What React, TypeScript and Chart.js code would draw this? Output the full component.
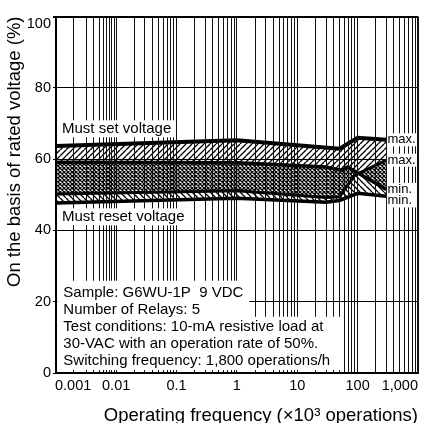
import React, { useEffect, useRef } from 'react';
import { Chart, registerables } from 'chart.js';

Chart.register(...registerables);

// ---- data (frequency in x10^3 operations/h, voltage in % of rated) ----
const SET_MAX_FREQ = [0.0004, 1, 50, 100, 300];
const SET_MAX = [63.7, 65.3, 62.9, 66.0, 65.4];
const SET_MIN_FREQ = [0.0004, 1, 30, 55, 68, 300];
const SET_MIN = [59.1, 59.0, 57.8, 56.9, 57.8, 51.5];
const RESET_MAX_FREQ = [0.0004, 1, 30, 50, 90, 300];
const RESET_MAX = [50.2, 51.1, 49.2, 49.4, 55.5, 59.7];
const RESET_MIN_FREQ = [0.0004, 1, 30, 50, 100, 300];
const RESET_MIN = [47.7, 49.0, 47.9, 48.4, 50.4, 49.6];

const X_MIN = 0.0004;
const X_MAX = 1000;
const X_DECADES = [0.001, 0.01, 0.1, 1, 10, 100];
const X_DECADE_LABELS = ['0.001', '0.01', '0.1', '1', '10', '100'];
const X_MAX_LABEL = '1,000';
const Y_TICKS = [0, 20, 40, 60, 80, 100];

const X_TITLE = 'Operating frequency (×10³ operations)';
const Y_TITLE = 'On the basis of rated voltage (%)';
const SET_LABEL = 'Must set voltage';
const RESET_LABEL = 'Must reset voltage';
const NOTE_LINES_TOP = ['Sample: G6WU-1P  9 VDC', 'Number of Relays: 5'];
const NOTE_LINES_BOTTOM = [
  'Test conditions: 10-mA resistive load at',
  '30-VAC with an operation rate of 50%.',
  'Switching frequency: 1,800 operations/h',
];
const END_LABELS = ['max.', 'max.', 'min.', 'min.'];

const FONT = "'Liberation Sans', Arial, Helvetica, sans-serif";

// The printed axis is logarithmic, with its first decade drawn narrower.
const FIRST_DECADE_SCALE = 0.713;
function axisPos(f: number): number {
  const d = Math.log10(f) + 2;
  return d >= 0 ? d : d * FIRST_DECADE_SCALE;
}

const X_TICK_FREQS: number[] = [];
const X_TICK_LABELS: string[] = [];
X_TICK_FREQS.push(X_MIN);
X_TICK_LABELS.push('');
X_DECADES.forEach((d, i) => {
  for (let m = 1; m <= 9; m++) {
    X_TICK_FREQS.push(d * m);
    X_TICK_LABELS.push(m === 1 ? X_DECADE_LABELS[i] : '');
  }
});
X_TICK_FREQS.push(X_MAX);
X_TICK_LABELS.push(X_MAX_LABEL);

function pts(freqs: number[], vals: number[]) {
  return freqs.map((f, i) => ({ x: axisPos(f), y: vals[i] }));
}

function makePattern(ctx: CanvasRenderingContext2D, kind: 'slash' | 'back' | 'cross') {
  const s = kind === 'cross' ? 4 : 6;
  const c = document.createElement('canvas');
  c.width = s;
  c.height = s;
  const g = c.getContext('2d')!;
  g.fillStyle = '#fff';
  g.fillRect(0, 0, s, s);
  g.strokeStyle = '#000';
  g.lineWidth = kind === 'cross' ? 1.3 : 1.3;
  g.beginPath();
  for (const k of [-1, 0, 1]) {
    if (kind === 'slash' || kind === 'cross') {
      g.moveTo(k * s, s);
      g.lineTo(k * s + s, 0);
    }
    if (kind === 'back' || kind === 'cross') {
      g.moveTo(k * s, 0);
      g.lineTo(k * s + s, s);
    }
  }
  g.stroke();
  return ctx.createPattern(c, 'repeat')!;
}

const SET_LABEL_AT = 68.5;
const RESET_LABEL_AT = 43.8;
const NOTE_FIRST_AT = 22.6;
const NOTE_STEP = 17.2;

const notesPlugin = {
  id: 'notes',
  afterDraw(chart: any) {
    const { ctx, chartArea: ca, scales } = chart;
    const xs = scales.x;
    const ys = scales.y;
    ctx.save();
    const boxLeft = ca.left + 1.5;
    const white = (x1: number, y1: number, x2: number, y2: number) => {
      ctx.fillStyle = '#fff';
      ctx.fillRect(x1, y1, x2 - x1, y2 - y1);
    };
    ctx.textBaseline = 'middle';
    ctx.textAlign = 'left';
    ctx.font = `15px ${FONT}`;

    // Must set / reset labels
    const labelX = ca.left + 6;
    [[SET_LABEL, SET_LABEL_AT], [RESET_LABEL, RESET_LABEL_AT]].forEach(([t, v]) => {
      const y = ys.getPixelForValue(v as number);
      const w = ctx.measureText(t as string).width;
      white(boxLeft, y - 8.5, labelX + w + 3, y + 8.5);
      ctx.fillStyle = '#000';
      ctx.fillText(t as string, labelX, y);
    });

    // Test notes
    const noteX = ca.left + 7.3;
    const y0 = ys.getPixelForValue(NOTE_FIRST_AT);
    const wTop = Math.max(...NOTE_LINES_TOP.map((t) => ctx.measureText(t).width));
    const wBot = Math.max(...NOTE_LINES_BOTTOM.map((t) => ctx.measureText(t).width));
    const splitY = y0 + NOTE_STEP * 1.5 - 1.5;
    white(boxLeft, y0 - 11.7, noteX + wTop + 6, splitY + 1);
    white(boxLeft, splitY, noteX + wBot + 11, ca.bottom - 3);
    ctx.fillStyle = '#000';
    [...NOTE_LINES_TOP, ...NOTE_LINES_BOTTOM].forEach((t, i) => {
      ctx.fillText(t, noteX, y0 + i * NOTE_STEP);
    });

    // End labels (max./min.) at the right-hand end of each curve
    ctx.font = `13px ${FONT}`;
    const ends = [
      SET_MAX[SET_MAX.length - 1],
      RESET_MAX[RESET_MAX.length - 1],
      SET_MIN[SET_MIN.length - 1],
      RESET_MIN[RESET_MIN.length - 1],
    ];
    const endX = xs.getPixelForValue(axisPos(SET_MAX_FREQ[SET_MAX_FREQ.length - 1])) + 1;
    let prev = -Infinity;
    ends.forEach((v, i) => {
      let y = ys.getPixelForValue(v);
      if (y < prev + 11.5) y = prev + 11.5;
      prev = y;
      white(endX - 0.5, y - 6.5, ca.right - 1, y + 6.5);
      ctx.fillStyle = '#000';
      ctx.fillText(END_LABELS[i], endX, y);
    });
    ctx.restore();
  },
};

export default function App() {
  const ref = useRef<HTMLCanvasElement>(null);

  useEffect(() => {
    document.body.style.margin = '0';
    const canvas = ref.current!;
    const ctx = canvas.getContext('2d')!;
    const cross = makePattern(ctx, 'cross');
    const slash = makePattern(ctx, 'slash');
    const back = makePattern(ctx, 'back');
    const lastX = X_TICK_FREQS.length - 1;

    const chart = new Chart(canvas, {
      type: 'line',
      data: {
        datasets: [
          {
            label: 'Must set voltage min.',
            data: pts(SET_MIN_FREQ, SET_MIN),
            borderColor: '#000',
            borderWidth: 3.5,
            backgroundColor: cross,
            fill: { target: 2 },
          },
          {
            label: 'Must set voltage max.',
            data: pts(SET_MAX_FREQ, SET_MAX),
            borderColor: '#000',
            borderWidth: 4,
            backgroundColor: slash,
            fill: { target: 0 },
          },
          {
            label: 'Must reset voltage max.',
            data: pts(RESET_MAX_FREQ, RESET_MAX),
            borderColor: '#000',
            borderWidth: 3,
            backgroundColor: back,
            fill: { target: 3 },
          },
          {
            label: 'Must reset voltage min.',
            data: pts(RESET_MIN_FREQ, RESET_MIN),
            borderColor: '#000',
            borderWidth: 3.5,
            fill: false,
          },
        ] as any,
      },
      options: {
        responsive: false,
        animation: false,
        layout: { padding: { top: 13, right: 8, left: 0, bottom: 0 } },
        elements: { point: { radius: 0 }, line: { tension: 0 } },
        plugins: {
          legend: { display: false },
          tooltip: { enabled: false },
          filler: { drawTime: 'beforeDatasetsDraw' },
        } as any,
        scales: {
          x: {
            type: 'linear',
            min: axisPos(X_MIN),
            max: axisPos(X_MAX),
            afterBuildTicks: (s: any) => {
              s.ticks = X_TICK_FREQS.map((f) => ({ value: axisPos(f) }));
            },
            afterFit: (s: any) => {
              s.height = 50;
              s.paddingLeft = 0;
              s.paddingRight = 0;
            },
            grid: {
              z: 1,
              drawTicks: false,
              color: (c: any) => (c.index === 0 ? 'rgba(0,0,0,0)' : '#111'),
              lineWidth: (c: any) => (c.index === lastX ? 2 : 1),
            },
            border: { z: 1, width: 2, color: '#000' },
            ticks: {
              autoSkip: false,
              maxRotation: 0,
              minRotation: 0,
              align: 'inner',
              padding: 4,
              color: '#000',
              font: { family: FONT, size: 14.5 },
              callback: (_v: any, i: number) => X_TICK_LABELS[i],
            },
            title: {
              display: true,
              text: X_TITLE,
              align: 'end',
              color: '#000',
              font: { family: FONT, size: 18.5, lineHeight: 0.8 },
              padding: { top: 0, bottom: 0 },
            },
          },
          y: {
            min: 0,
            max: 100,
            afterBuildTicks: (s: any) => {
              s.ticks = Y_TICKS.map((v) => ({ value: v }));
            },
            afterFit: (s: any) => {
              s.width = 56;
            },
            grid: {
              z: 1,
              tickLength: 3,
              color: '#000',
              lineWidth: (c: any) => (c.tick && c.tick.value === 100 ? 2 : 1),
            },
            border: { z: 1, width: 2, color: '#000' },
            ticks: {
              padding: 2,
              color: '#000',
              font: { family: FONT, size: 14.5, lineHeight: 1.0 },
              callback: (v: any) => (v === 100 ? ['', '100'] : String(v)),
            },
            title: {
              display: true,
              text: Y_TITLE,
              align: 'end',
              color: '#000',
              font: { family: FONT, size: 18.5 },
              padding: { top: 4, bottom: 4 },
            },
          },
        } as any,
      },
      plugins: [notesPlugin],
    });
    return () => chart.destroy();
  }, []);

  return <canvas ref={ref} width={426} height={423} style={{ display: 'block' }} />;
}
